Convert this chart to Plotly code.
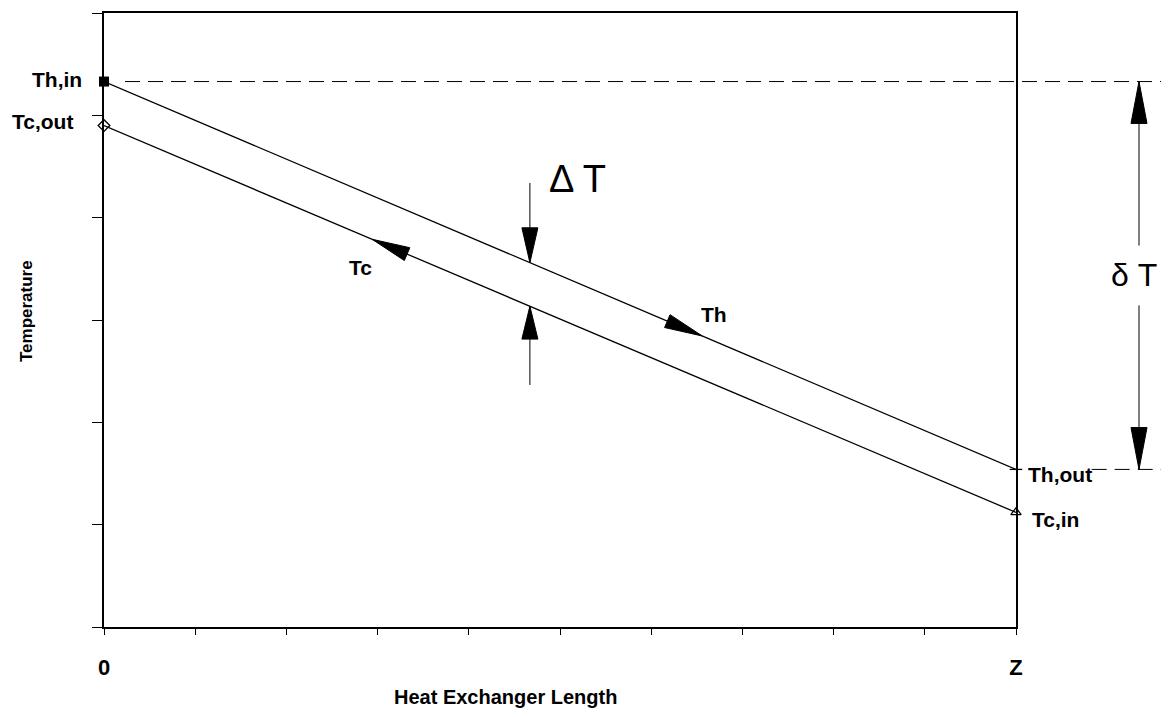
import plotly.graph_objects as go
import numpy as np

# ---------------- data ----------------
X_POS = [0, 10]              # 0 .. Z along heat exchanger
TH = [5.33, 1.54]            # hot stream: Th,in -> Th,out
TC = [4.90, 1.12]            # cold stream: Tc,out <- Tc,in
X_TICKS = list(range(0, 11))
X_TICKTEXT = ["<b>0</b>"] + [""] * 9 + ["<b>Z</b>"]
Y_TICKS = list(range(0, 7))
END_LABELS = ["Th,in", "Tc,out", "Th,out", "Tc,in"]
STREAM_LABELS = ["Th", "Tc"]

# ---------------- layout constants ----------------
W, H = 1169, 717
OFF = 8                      # page body margin
ML, MR, MT, MB = 104, 153, 11, 90
XMAX, YMAX = 10, 6
PW, PH = W - ML - MR, H - MT - MB
SX, SY = PW / XMAX, PH / YMAX      # px per data unit
FONT = "Liberation Sans, Arial, sans-serif"


def th_at(x):
    return float(np.interp(x, X_POS, TH))


def tc_at(x):
    return float(np.interp(x, X_POS, TC))


def head_path(tip_x, tip_y, ux, uy, L, hw, sx, sy):
    """Filled arrow head; (ux,uy) unit vector in screen px (y down)."""
    bx = tip_x - L * ux / sx
    by = tip_y + L * uy / sy
    px, py = -uy, ux
    c1 = (bx + hw * px / sx, by - hw * py / sy)
    c2 = (bx - hw * px / sx, by + hw * py / sy)
    return f"M{tip_x},{tip_y} L{c1[0]},{c1[1]} L{c2[0]},{c2[1]} Z"


fig = go.Figure()
line_style = dict(color="black", width=1.3)
fig.add_trace(go.Scatter(x=X_POS, y=TH, mode="lines", line=line_style, showlegend=False))
fig.add_trace(go.Scatter(x=X_POS, y=TC, mode="lines", line=line_style, showlegend=False))

# end markers
fig.add_trace(go.Scatter(x=[X_POS[0]], y=[TH[0]], mode="markers", cliponaxis=False,
                         marker=dict(symbol="square", size=10, color="black"), showlegend=False))
fig.add_trace(go.Scatter(x=[X_POS[0]], y=[TC[0]], mode="markers", cliponaxis=False,
                         marker=dict(symbol="diamond-open", size=9, color="black",
                                     line=dict(width=1.3, color="black")), showlegend=False))
fig.add_trace(go.Scatter(x=[X_POS[1]], y=[TH[1]], mode="markers", cliponaxis=False,
                         marker=dict(symbol="line-ew", size=9, color="black",
                                     line=dict(width=1.3, color="black")), showlegend=False))
fig.add_trace(go.Scatter(x=[X_POS[1]], y=[TC[1]], mode="markers", cliponaxis=False,
                         marker=dict(symbol="triangle-up-open", size=9, color="black",
                                     line=dict(width=1.3, color="black")), showlegend=False))

shapes = []
# direction of hot stream (screen px)
dxp = (X_POS[1] - X_POS[0]) * SX
dyp = (TH[0] - TH[1]) * SY
n = np.hypot(dxp, dyp)
uh = (dxp / n, dyp / n)
dyc = (TC[0] - TC[1]) * SY
nc = np.hypot(dxp, dyc)
uc = (-dxp / nc, -dyc / nc)

blk = dict(fillcolor="black", line=dict(color="black", width=1))
# flow arrows on the lines
xa = 6.56
shapes.append(dict(type="path", xref="x", yref="y",
                   path=head_path(xa, th_at(xa), uh[0], uh[1], 38, 7, SX, SY), **blk))
xb = 2.94
shapes.append(dict(type="path", xref="x", yref="y",
                   path=head_path(xb, tc_at(xb), uc[0], uc[1], 38, 7, SX, SY), **blk))

# Delta T pinch arrows
DX = 4.67
ty, by_ = th_at(DX), tc_at(DX)
shapes.append(dict(type="line", xref="x", yref="y", x0=DX, x1=DX, y0=ty, y1=ty + 80 / SY,
                   line=dict(color="black", width=1)))
shapes.append(dict(type="path", xref="x", yref="y",
                   path=head_path(DX, ty, 0, 1, 35, 8, SX, SY), **blk))
shapes.append(dict(type="line", xref="x", yref="y", x0=DX, x1=DX, y0=by_, y1=by_ - 79 / SY,
                   line=dict(color="black", width=1)))
shapes.append(dict(type="path", xref="x", yref="y",
                   path=head_path(DX, by_, 0, -1, 33, 8, SX, SY), **blk))

# dashed reference lines (paper x, data y)
dash = dict(color="black", width=1, dash="15px,8px")
shapes.append(dict(type="line", xref="paper", yref="y", x0=21 / PW, x1=1.16,
                   y0=TH[0], y1=TH[0], line=dash))
shapes.append(dict(type="line", xref="paper", yref="y", x0=1.083, x1=1.16,
                   y0=TH[1], y1=TH[1], line=dash))

# delta T (overall) arrow
PX = (1139 - ML) / PW
mid = (TH[0] + TH[1]) / 2
gap = 30 / SY
shapes.append(dict(type="line", xref="paper", yref="y", x0=PX, x1=PX, y0=TH[0], y1=mid + gap,
                   line=dict(color="black", width=1)))
shapes.append(dict(type="line", xref="paper", yref="y", x0=PX, x1=PX, y0=mid - gap, y1=TH[1],
                   line=dict(color="black", width=1)))
shapes.append(dict(type="path", xref="paper", yref="y",
                   path=head_path(PX, TH[0], 0, -1, 42, 8, PW, SY), **blk))
shapes.append(dict(type="path", xref="paper", yref="y",
                   path=head_path(PX, TH[1], 0, 1, 42, 8, PW, SY), **blk))

lab_font = dict(family=FONT, size=21, color="black")
ann = []
ann.append(dict(text="<b>" + END_LABELS[0] + "</b>", xref="paper", x=0, xanchor="right", xshift=-20,
                yref="y", y=TH[0], yanchor="middle", yshift=2, showarrow=False, font=lab_font))
ann.append(dict(text="<b>" + END_LABELS[1] + "</b>", xref="paper", x=0, xanchor="right", xshift=-29,
                yref="y", y=TC[0], yanchor="middle", yshift=4, showarrow=False, font=lab_font))
ann.append(dict(text="<b>" + END_LABELS[2] + "</b>", xref="paper", x=1, xanchor="left", xshift=10,
                yref="y", y=TH[1], yanchor="middle", yshift=-5, showarrow=False, font=lab_font))
ann.append(dict(text="<b>" + END_LABELS[3] + "</b>", xref="paper", x=1, xanchor="left", xshift=14,
                yref="y", y=TC[1], yanchor="middle", yshift=-7, showarrow=False, font=lab_font))
ann.append(dict(text="<b>" + STREAM_LABELS[0] + "</b>", xref="x", x=6.69, xanchor="center",
                yref="y", y=th_at(6.69), yshift=27, showarrow=False, font=lab_font))
ann.append(dict(text="<b>" + STREAM_LABELS[1] + "</b>", xref="x", x=2.81, xanchor="center",
                yref="y", y=tc_at(2.81), yshift=-33, showarrow=False, font=lab_font))
ann.append(dict(text="\u0394 T", xref="x", x=DX, xanchor="center", yref="y", y=ty, xshift=48, yshift=84,
                showarrow=False, font=dict(family=FONT, size=38, color="black")))
ann.append(dict(text="\u03b4 T", xref="paper", x=PX, xanchor="center", yref="y", y=mid, xshift=-5,
                showarrow=False, font=dict(family=FONT, size=32, color="black")))
ann.append(dict(text="<b>Heat Exchanger Length</b>", xref="paper", x=(392 - ML) / PW, xanchor="left",
                yref="paper", y=-(697 - (H - MB)) / PH, yanchor="middle", showarrow=False,
                font=dict(family=FONT, size=20, color="black")))
ann.append(dict(text="<b>Temperature</b>", xref="paper", x=(26 - ML) / PW, xanchor="center",
                yref="paper", y=1 - (310 - MT) / PH, yanchor="middle", textangle=-90, showarrow=False,
                font=dict(family=FONT, size=17, color="black")))

fig.update_layout(
    width=W - OFF, height=H - OFF,
    margin=dict(l=ML - OFF, r=MR, t=MT - OFF, b=MB),
    paper_bgcolor="white", plot_bgcolor="white",
    shapes=shapes, annotations=ann,
    font=dict(family=FONT, color="black"),
)
fig.update_xaxes(range=[0, XMAX], tickvals=X_TICKS, ticktext=X_TICKTEXT, ticks="outside", ticklen=6,
                 tickwidth=1, tickcolor="black", showline=True, linecolor="black", linewidth=1.5,
                 mirror=True, showgrid=False, zeroline=False, ticklabelstandoff=14,
                 tickfont=dict(family=FONT, size=22, color="black"))
fig.update_yaxes(range=[0, YMAX], tickvals=Y_TICKS, showticklabels=False, ticks="outside", ticklen=10,
                 tickwidth=1, tickcolor="black", showline=True, linecolor="black", linewidth=1.5,
                 mirror=True, showgrid=False, zeroline=False)

fig.write_html("out.html")
